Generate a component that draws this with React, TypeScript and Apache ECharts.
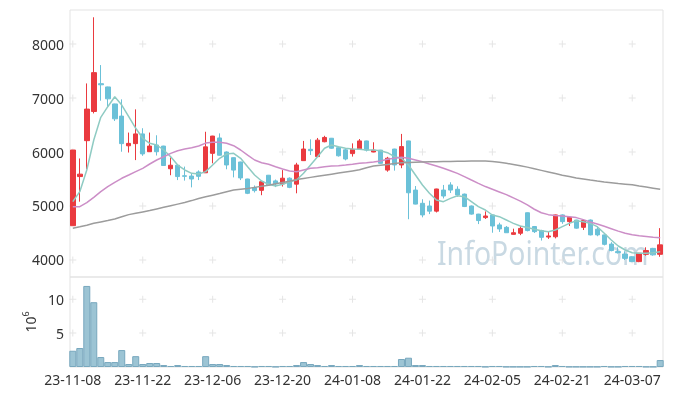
import React, { useEffect, useRef } from 'react';
import * as echarts from 'echarts';

const dates = [
  '23-11-08','23-11-09','23-11-10','23-11-13','23-11-14','23-11-15','23-11-16','23-11-17','23-11-20','23-11-21',
  '23-11-22','23-11-23','23-11-24','23-11-27','23-11-28','23-11-29','23-11-30','23-12-01','23-12-04','23-12-05',
  '23-12-06','23-12-07','23-12-08','23-12-11','23-12-12','23-12-13','23-12-14','23-12-15','23-12-18','23-12-19',
  '23-12-20','23-12-21','23-12-22','23-12-26','23-12-27','23-12-28','24-01-02','24-01-03','24-01-04','24-01-05',
  '24-01-08','24-01-09','24-01-10','24-01-11','24-01-12','24-01-15','24-01-16','24-01-17','24-01-18','24-01-19',
  '24-01-22','24-01-23','24-01-24','24-01-25','24-01-26','24-01-29','24-01-30','24-01-31','24-02-01','24-02-02',
  '24-02-05','24-02-06','24-02-07','24-02-08','24-02-13','24-02-14','24-02-15','24-02-16','24-02-19','24-02-20',
  '24-02-21','24-02-22','24-02-23','24-02-26','24-02-27','24-02-28','24-02-29','24-03-04','24-03-05','24-03-06',
  '24-03-07','24-03-08','24-03-11','24-03-12','24-03-13'
];

const opens = [
  4635,5545,6210,6750,7265,7205,6890,6665,6115,6155,
  6335,6005,6130,6110,5690,5755,5560,5555,5630,5615,
  5975,6260,6000,5895,5815,5500,5340,5290,5570,5465,
  5410,5515,5405,5840,6050,5915,6190,6255,6080,6040,
  5970,6060,6205,6000,6035,5665,6055,5760,6205,5295,
  5050,5000,4905,5295,5390,5310,5220,5000,4850,4785,
  4835,4650,4605,4475,4495,4875,4620,4545,4425,4430,
  4835,4710,4740,4605,4740,4570,4465,4295,4155,4110,
  4060,3970,4105,4215,4105
];
const closes = [
  6037,5590,6795,7470,7245,6985,6615,6155,6160,6335,
  5965,6110,6005,5750,5755,5545,5550,5500,5550,6095,
  6295,5940,5760,5665,5520,5235,5285,5450,5390,5410,
  5515,5345,5760,6055,6025,6220,6270,6070,5930,5870,
  6050,6205,6035,6035,5790,5885,5760,6100,5245,5035,
  4835,4905,5315,5185,5295,5205,4990,4850,4730,4815,
  4630,4575,4505,4505,4585,4545,4525,4420,4445,4835,
  4710,4790,4590,4730,4465,4465,4290,4175,4135,4030,
  3970,4125,4175,4095,4280
];
const lows = [
  4635,5080,5680,6715,6950,6840,6575,6005,5990,5850,
  5930,6000,5935,5745,5570,5480,5470,5345,5480,5610,
  5790,5935,5680,5530,5480,5220,5250,5200,5370,5350,
  5360,5330,5235,5835,5945,5910,6180,6060,5915,5845,
  5915,6055,6010,5995,5785,5635,5655,5700,4755,5030,
  4790,4850,4880,5140,5240,5170,4980,4840,4665,4760,
  4505,4520,4500,4470,4460,4530,4500,4360,4390,4400,
  4670,4630,4580,4555,4455,4440,4270,4160,4120,4000,
  3960,3960,4080,4080,4060
];
const highs = [
  6037,5880,7270,8495,7610,7210,6895,6975,6360,6790,
  6440,6360,6310,6115,5900,5760,5730,5600,5660,6375,
  6300,6345,6010,5900,5820,5505,5380,5460,5575,5490,
  5665,5530,5800,6205,6235,6260,6300,6260,6100,6055,
  6160,6240,6210,6180,6040,5910,6060,6335,6210,5370,
  5125,5100,5320,5390,5440,5365,5230,5010,4855,4900,
  4840,4690,4630,4580,4630,4880,4630,4560,4525,4840,
  4845,4800,4745,4750,4750,4620,4470,4330,4235,4160,
  4070,4130,4235,4225,4590
];
// volume in millions of shares
const volumes = [
  2.4,2.8,11.96,9.56,1.47,0.73,0.73,2.5,0.44,1.6,
  0.44,0.59,0.59,0.29,0.15,0.29,0.15,0.15,0.15,1.6,
  0.44,0.44,0.29,0.15,0.15,0.15,0.05,0.15,0.15,0.05,
  0.15,0.15,0.29,0.73,0.44,0.29,0.15,0.29,0.15,0.15,
  0.15,0.29,0.15,0.15,0.15,0.15,0.15,1.18,1.37,0.29,
  0.29,0.15,0.15,0.15,0.15,0.15,0.15,0.15,0.15,0.05,
  0.15,0.15,0.05,0.05,0.05,0.05,0.15,0.15,0.05,0.29,
  0.15,0.05,0.05,0.05,0.05,0.05,0.15,0.05,0.05,0.15,
  0.15,0.15,0.05,0.05,1.03
];
const ma5 = [
  5080,5265,5667,6222,6642,6839,7024,6870,6654,6439,
  6254,6161,6130,6037,5913,5759,5667,5605,5593,5636,
  5759,5883,5963,5975,5883,5728,5574,5463,5401,5370,
  5401,5450,5481,5605,5759,5913,6069,6130,6098,6069,
  6055,6050,6037,6037,6024,5987,5913,5883,5759,5574,
  5389,5235,5111,5080,5142,5191,5173,5080,4988,4926,
  4833,4802,4741,4679,4630,4600,4568,4540,4525,4555,
  4617,4679,4728,4710,4679,4617,4494,4370,4259,4185,
  4135,4123,4123,4135,4154
];
const ma20 = [
  4988,4988,5062,5161,5265,5358,5439,5513,5574,5636,
  5698,5778,5852,5913,5975,6024,6055,6080,6111,6165,
  6180,6179,6161,6117,6037,5944,5852,5802,5772,5728,
  5685,5648,5636,5667,5698,5710,5728,5741,5747,5759,
  5772,5790,5802,5815,5833,5864,5883,5901,5883,5852,
  5821,5778,5741,5698,5654,5605,5543,5481,5420,5360,
  5310,5260,5210,5150,5090,5020,4940,4875,4840,4825,
  4815,4800,4785,4748,4705,4668,4625,4580,4535,4495,
  4468,4448,4435,4422,4410
];
const ma60 = [
  4587,4615,4645,4679,4705,4730,4760,4800,4840,4865,
  4890,4915,4945,4975,5005,5035,5065,5100,5140,5170,
  5200,5230,5265,5295,5310,5325,5345,5365,5385,5410,
  5435,5460,5490,5510,5530,5550,5570,5590,5610,5630,
  5650,5670,5710,5740,5755,5770,5785,5800,5805,5810,
  5815,5818,5821,5824,5826,5828,5830,5832,5833,5833,
  5825,5810,5790,5770,5745,5720,5690,5660,5630,5600,
  5570,5545,5520,5500,5480,5462,5446,5432,5418,5405,
  5392,5370,5350,5330,5310
];
const priceTicks = [4000, 5000, 6000, 7000, 8000];
const volumeTicks = [5, 10];
const labelIdx = [0, 10, 20, 30, 40, 50, 60, 70, 80];

const FONT = "'Noto Sans', sans-serif";
const PLUS = 'path://M3,0H4V3H7V4H4V7H3V4H0V3H3Z';

export default function App() {
  const ref = useRef<HTMLDivElement>(null);
  useEffect(() => {
    const chart = echarts.init(ref.current!, null, { renderer: 'svg' });
    const idx = dates.map((_, i) => i);
    const candle = idx.map((i) => [i, opens[i], closes[i], lows[i], highs[i]]);
    const plusPrice: number[][] = [];
    labelIdx.forEach((x) => priceTicks.forEach((y) => plusPrice.push([x, y])));
    const plusVol: number[][] = [];
    labelIdx.forEach((x) => volumeTicks.forEach((y) => plusVol.push([x, y])));
    const xBase = {
      type: 'value',
      min: -0.4,
      max: 84.4,
      axisLine: { show: false },
      axisTick: { show: false },
      splitLine: { show: false },
    };
    const yLabel = {
      fontSize: 14,
      color: '#333',
      margin: 6,
      showMinLabel: false,
      showMaxLabel: false,
      fontFamily: FONT,
      formatter: (v: number) => String(v),
    };
    chart.setOption({
      animation: false,
      textStyle: { fontFamily: FONT },
      grid: [
        { left: 70, right: 10, top: 10, height: 267, show: true, borderColor: '#e3e3e3', borderWidth: 1, backgroundColor: 'transparent' },
        { left: 70, right: 10, top: 277, height: 90, show: true, borderColor: '#e3e3e3', borderWidth: 1, backgroundColor: 'transparent' },
      ],
      graphic: [
        {
          type: 'text',
          x: 437,
          y: 236,
          scaleX: 0.86,
          z: 0,
          silent: true,
          style: { text: 'InfoPointer.com', fontSize: 33, fontFamily: FONT, fill: '#c9d9e3' },
        },
      ],
      xAxis: [
        { ...xBase, gridIndex: 0, axisLabel: { show: false } },
        {
          ...xBase,
          gridIndex: 1,
          axisLabel: {
            show: true,
            customValues: labelIdx,
            formatter: (v: number) => dates[Math.round(v)] ?? '',
            fontSize: 14,
            color: '#333',
            margin: 5,
            fontFamily: FONT,
          },
        },
      ],
      yAxis: [
        {
          type: 'value',
          gridIndex: 0,
          min: 3685,
          max: 8630,
          splitNumber: 5,
          axisLine: { show: false },
          axisTick: { show: false },
          splitLine: { show: false },
          axisLabel: yLabel,
        },
        {
          type: 'value',
          gridIndex: 1,
          min: 0,
          max: 13.28,
          interval: 5,
          axisLine: { show: false },
          axisTick: { show: false },
          splitLine: { show: false },
          axisLabel: yLabel,
          name: '{a|10}{b|6}',
          nameLocation: 'middle',
          nameRotate: 90,
          nameGap: 31,
          nameTextStyle: {
            rich: {
              a: { fontSize: 14, color: '#333', fontFamily: FONT, lineHeight: 18 },
              b: { fontSize: 9, color: '#333', fontFamily: FONT, verticalAlign: 'top', lineHeight: 18 },
            },
          },
        },
      ],
      series: [
        {
          type: 'scatter',
          xAxisIndex: 0,
          yAxisIndex: 0,
          data: plusPrice,
          symbol: PLUS,
          symbolSize: 7,
          itemStyle: { color: '#dedede' },
          silent: true,
          z: 1,
        },
        {
          type: 'scatter',
          xAxisIndex: 1,
          yAxisIndex: 1,
          data: plusVol,
          symbol: PLUS,
          symbolSize: 7,
          itemStyle: { color: '#dedede' },
          silent: true,
          z: 1,
        },
        {
          type: 'candlestick',
          xAxisIndex: 0,
          yAxisIndex: 0,
          data: candle,
          encode: { x: 0, y: [1, 2, 3, 4] },
          barWidth: 5,
          itemStyle: {
            color: '#ea3a3f',
            color0: '#6bc1d8',
            borderColor: '#ea3a3f',
            borderColor0: '#6bc1d8',
            borderWidth: 1,
          },
          z: 3,
        },
        {
          type: 'line',
          xAxisIndex: 0,
          yAxisIndex: 0,
          data: idx.map((i) => [i, ma5[i]]),
          symbol: 'none',
          lineStyle: { color: '#8fcbc3', width: 1.5 },
          z: 4,
        },
        {
          type: 'line',
          xAxisIndex: 0,
          yAxisIndex: 0,
          data: idx.map((i) => [i, ma20[i]]),
          symbol: 'none',
          lineStyle: { color: '#cc8ec7', width: 1.5 },
          z: 4,
        },
        {
          type: 'line',
          xAxisIndex: 0,
          yAxisIndex: 0,
          data: idx.map((i) => [i, ma60[i]]),
          symbol: 'none',
          lineStyle: { color: '#9c9c9c', width: 1.5 },
          z: 4,
        },
        {
          type: 'bar',
          xAxisIndex: 1,
          yAxisIndex: 1,
          data: idx.map((i) => [i, volumes[i]]),
          barWidth: 7,
          itemStyle: { color: '#9cc4d4', borderColor: '#78a8be', borderWidth: 1 },
          z: 3,
        },
      ],
    });
    return () => chart.dispose();
  }, []);
  return <div ref={ref} style={{ position: 'fixed', left: 0, top: 0, width: 673, height: 396 }} />;
}
